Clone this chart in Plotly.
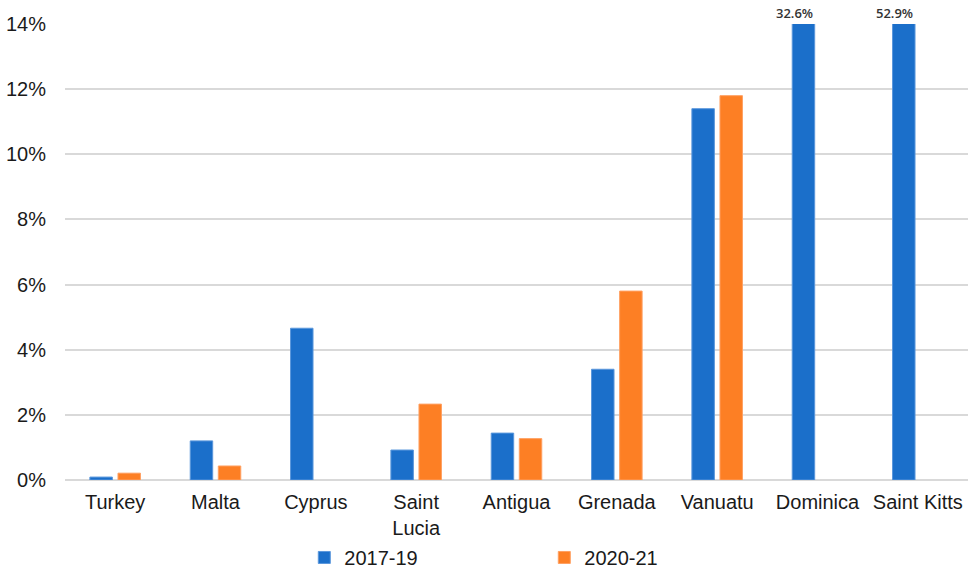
import plotly.graph_objects as go

countries = ["Turkey", "Malta", "Cyprus", "Saint<br>Lucia", "Antigua", "Grenada",
             "Vanuatu", "Dominica", "Saint Kitts"]
share_2017_19 = [0.09, 1.2, 4.66, 0.92, 1.44, 3.4, 11.4, 32.6, 52.9]
share_2020_21 = [0.21, 0.43, None, 2.33, 1.27, 5.8, 11.8, None, None]
y_ticks = [0, 2, 4, 6, 8, 10, 12, 14]
y_max = 14

BLUE = "#1b6fca"
ORANGE = "#fd7f24"

fig = go.Figure()
fig.add_trace(go.Bar(
    x=countries, y=share_2017_19, name="2017-19",
    marker=dict(color=BLUE, line=dict(color="#5a97dc", width=1)),
    cliponaxis=True,
))
fig.add_trace(go.Bar(
    x=countries, y=share_2020_21, name="2020-21",
    marker=dict(color=ORANGE, line=dict(color="#ffa062", width=1)),
    cliponaxis=True,
))

# values that run past the top of the axis are written above the bar
for c, v in zip(countries, share_2017_19):
    if v is not None and v > y_max:
        fig.add_annotation(
            x=c, y=y_max, xref="x", yref="y", text=f"{v:.1f}%",
            showarrow=False, yanchor="bottom", yshift=0, xshift=-23,
            font=dict(family="Open Sans", size=13, color="#333333", weight=600),
        )

fig.update_layout(
    width=968, height=570,
    margin=dict(l=65, r=0, t=24, b=90, autoexpand=False),
    paper_bgcolor="white", plot_bgcolor="white",
    barmode="group", bargap=0.44, bargroupgap=0.2,
    font=dict(family="Liberation Sans, Arial", size=20, color="#1a1a1a"),
    showlegend=True,
    legend=dict(
        orientation="h", x=0.265, xanchor="left",
        yref="container", y=0.022, yanchor="middle",
        bgcolor="rgba(0,0,0,0)",
        entrywidth=195, entrywidthmode="pixels",
        font=dict(size=20, color="#1a1a1a"), traceorder="normal",
    ),
    xaxis=dict(showgrid=False, showline=False, ticks="", tickfont=dict(size=20),
               ticklabelstandoff=8, automargin=False),
    yaxis=dict(
        range=[0, y_max], tickvals=y_ticks,
        ticktext=[f"{t}%" for t in y_ticks],
        showgrid=True, gridcolor="#d9d9d9", gridwidth=1.5,
        zeroline=True, zerolinecolor="#d9d9d9", zerolinewidth=1.5,
        showline=False, ticks="", ticklabelstandoff=18, automargin=False,
        tickfont=dict(size=20),
    ),
)

fig.write_html("out.html")
